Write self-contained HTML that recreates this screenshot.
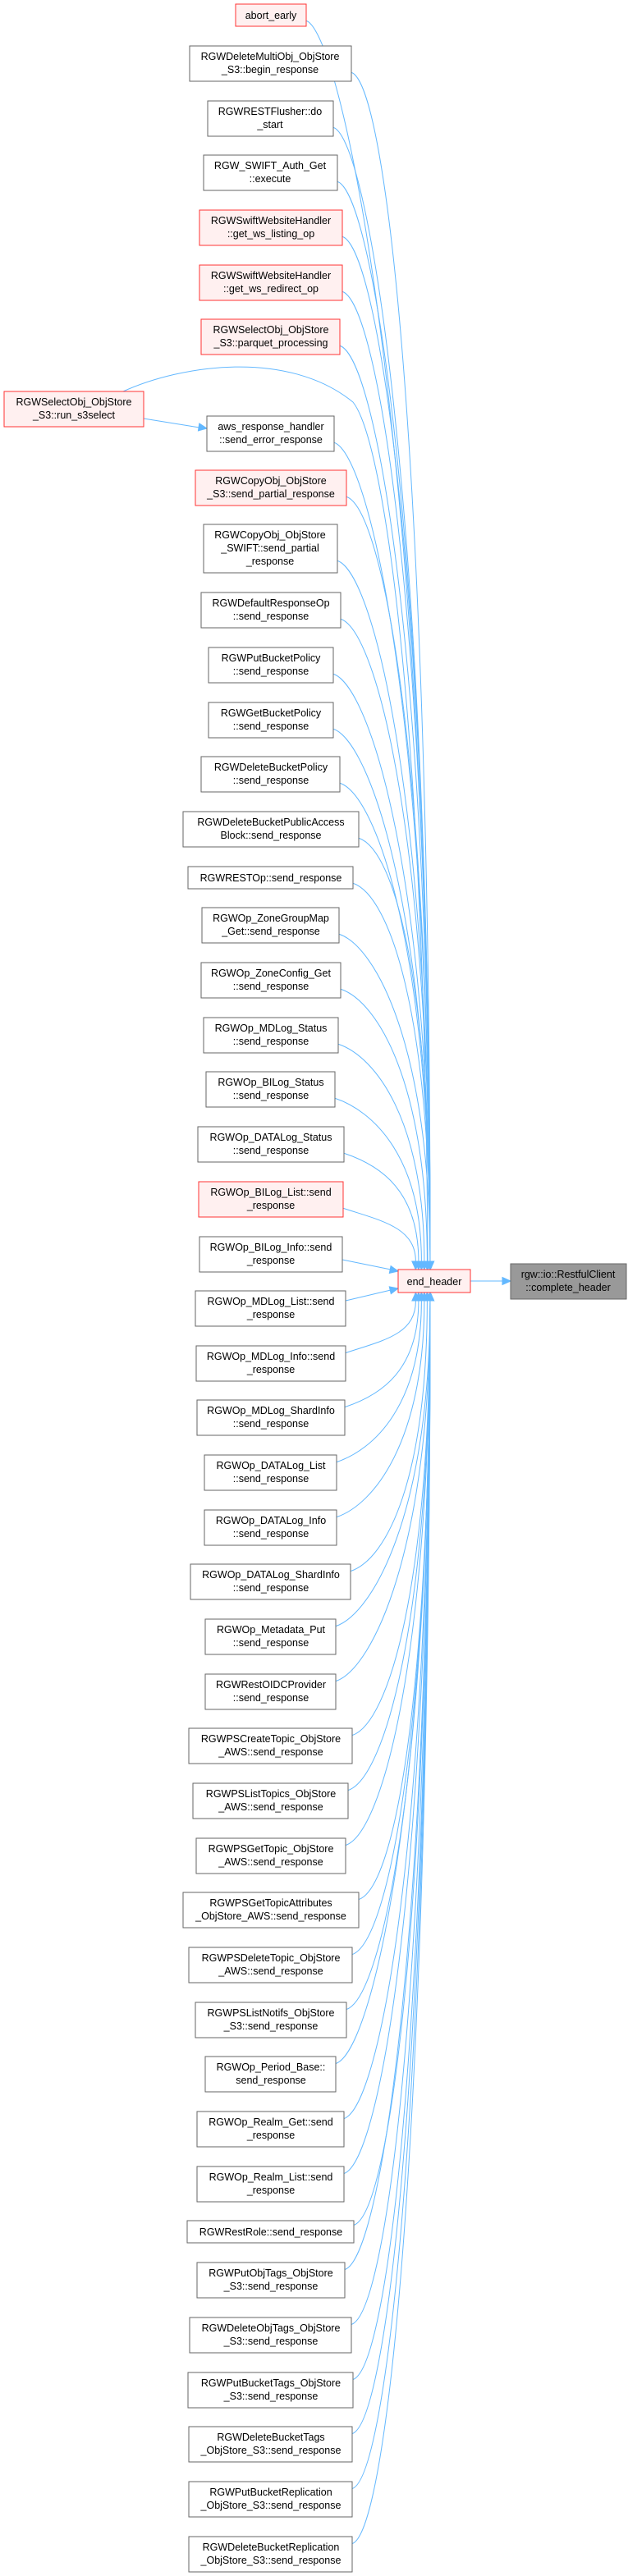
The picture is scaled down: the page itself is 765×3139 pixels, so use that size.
<!DOCTYPE html>
<html><head><meta charset="utf-8"><style>
html,body{margin:0;padding:0;background:#fff;}
svg{display:block;}
text{font-family:"Liberation Sans",Arial,sans-serif;font-size:12.5px;fill:#000;text-anchor:middle;}
.n{fill:#fff;stroke:#666;stroke-width:1;}
.r{fill:#fff0f0;stroke:#f33;stroke-width:1;}
.g{fill:#999;stroke:#666;stroke-width:1;}
.e{fill:none;stroke:#63b8ff;stroke-width:1;}
.a{fill:#63b8ff;stroke:#63b8ff;}
</style></head><body>
<svg id="s" width="765" height="3139" viewBox="0 0 765 3139" xmlns="http://www.w3.org/2000/svg">
<g id="edges"></g>
<g id="nodes">
<rect class="r" x="287" y="5" width="86" height="27"/><text x="330" y="23">abort_early</text>
<rect class="n" x="231" y="56" width="197" height="43"/><text x="329" y="73">RGWDeleteMultiObj_ObjStore</text><text x="329" y="89">_S3::begin_response</text>
<rect class="n" x="253" y="123" width="153" height="43"/><text x="329" y="140">RGWRESTFlusher::do</text><text x="329" y="156">_start</text>
<rect class="n" x="248" y="189" width="163" height="43"/><text x="329" y="206">RGW_SWIFT_Auth_Get</text><text x="329" y="222">::execute</text>
<rect class="r" x="243" y="256" width="174" height="43"/><text x="330" y="273">RGWSwiftWebsiteHandler</text><text x="330" y="289">::get_ws_listing_op</text>
<rect class="r" x="243" y="323" width="174" height="43"/><text x="330" y="340">RGWSwiftWebsiteHandler</text><text x="330" y="356">::get_ws_redirect_op</text>
<rect class="r" x="245" y="389" width="169" height="43"/><text x="330" y="406">RGWSelectObj_ObjStore</text><text x="330" y="422">_S3::parquet_processing</text>
<rect class="r" x="5" y="477" width="170" height="43"/><text x="90" y="494">RGWSelectObj_ObjStore</text><text x="90" y="510">_S3::run_s3select</text>
<rect class="n" x="252" y="507" width="155" height="43"/><text x="330" y="524">aws_response_handler</text><text x="330" y="540">::send_error_response</text>
<rect class="r" x="238" y="573" width="184" height="43"/><text x="330" y="590">RGWCopyObj_ObjStore</text><text x="330" y="606">_S3::send_partial_response</text>
<rect class="n" x="248" y="639" width="163" height="59"/><text x="329" y="656">RGWCopyObj_ObjStore</text><text x="329" y="672">_SWIFT::send_partial</text><text x="329" y="688">_response</text>
<rect class="n" x="245" y="722" width="170" height="43"/><text x="330" y="739">RGWDefaultResponseOp</text><text x="330" y="755">::send_response</text>
<rect class="n" x="254" y="789" width="152" height="43"/><text x="330" y="806">RGWPutBucketPolicy</text><text x="330" y="822">::send_response</text>
<rect class="n" x="254" y="856" width="152" height="43"/><text x="330" y="873">RGWGetBucketPolicy</text><text x="330" y="889">::send_response</text>
<rect class="n" x="245" y="922" width="169" height="43"/><text x="330" y="939">RGWDeleteBucketPolicy</text><text x="330" y="955">::send_response</text>
<rect class="n" x="223" y="989" width="214" height="43"/><text x="330" y="1006">RGWDeleteBucketPublicAccess</text><text x="330" y="1022">Block::send_response</text>
<rect class="n" x="229" y="1056" width="201" height="27"/><text x="330" y="1074">RGWRESTOp::send_response</text>
<rect class="n" x="246" y="1106" width="167" height="43"/><text x="330" y="1123">RGWOp_ZoneGroupMap</text><text x="330" y="1139">_Get::send_response</text>
<rect class="n" x="245" y="1173" width="170" height="43"/><text x="330" y="1190">RGWOp_ZoneConfig_Get</text><text x="330" y="1206">::send_response</text>
<rect class="n" x="248" y="1240" width="164" height="43"/><text x="330" y="1257">RGWOp_MDLog_Status</text><text x="330" y="1273">::send_response</text>
<rect class="n" x="251" y="1306" width="157" height="43"/><text x="330" y="1323">RGWOp_BILog_Status</text><text x="330" y="1339">::send_response</text>
<rect class="n" x="241" y="1373" width="178" height="43"/><text x="330" y="1390">RGWOp_DATALog_Status</text><text x="330" y="1406">::send_response</text>
<rect class="r" x="242" y="1440" width="176" height="43"/><text x="330" y="1457">RGWOp_BILog_List::send</text><text x="330" y="1473">_response</text>
<rect class="n" x="243" y="1507" width="174" height="43"/><text x="330" y="1524">RGWOp_BILog_Info::send</text><text x="330" y="1540">_response</text>
<rect class="n" x="238" y="1573" width="183" height="43"/><text x="330" y="1590">RGWOp_MDLog_List::send</text><text x="330" y="1606">_response</text>
<rect class="n" x="239" y="1640" width="182" height="43"/><text x="330" y="1657">RGWOp_MDLog_Info::send</text><text x="330" y="1673">_response</text>
<rect class="n" x="240" y="1706" width="180" height="43"/><text x="330" y="1723">RGWOp_MDLog_ShardInfo</text><text x="330" y="1739">::send_response</text>
<rect class="n" x="249" y="1773" width="161" height="43"/><text x="330" y="1790">RGWOp_DATALog_List</text><text x="330" y="1806">::send_response</text>
<rect class="n" x="249" y="1840" width="161" height="43"/><text x="330" y="1857">RGWOp_DATALog_Info</text><text x="330" y="1873">::send_response</text>
<rect class="n" x="232" y="1906" width="195" height="43"/><text x="330" y="1923">RGWOp_DATALog_ShardInfo</text><text x="330" y="1939">::send_response</text>
<rect class="n" x="250" y="1973" width="159" height="43"/><text x="330" y="1990">RGWOp_Metadata_Put</text><text x="330" y="2006">::send_response</text>
<rect class="n" x="250" y="2040" width="159" height="43"/><text x="330" y="2057">RGWRestOIDCProvider</text><text x="330" y="2073">::send_response</text>
<rect class="n" x="230" y="2106" width="199" height="43"/><text x="330" y="2123">RGWPSCreateTopic_ObjStore</text><text x="330" y="2139">_AWS::send_response</text>
<rect class="n" x="235" y="2173" width="189" height="43"/><text x="330" y="2190">RGWPSListTopics_ObjStore</text><text x="330" y="2206">_AWS::send_response</text>
<rect class="n" x="239" y="2240" width="182" height="43"/><text x="330" y="2257">RGWPSGetTopic_ObjStore</text><text x="330" y="2273">_AWS::send_response</text>
<rect class="n" x="223" y="2306" width="214" height="43"/><text x="330" y="2323">RGWPSGetTopicAttributes</text><text x="330" y="2339">_ObjStore_AWS::send_response</text>
<rect class="n" x="230" y="2373" width="199" height="43"/><text x="330" y="2390">RGWPSDeleteTopic_ObjStore</text><text x="330" y="2406">_AWS::send_response</text>
<rect class="n" x="238" y="2440" width="184" height="43"/><text x="330" y="2457">RGWPSListNotifs_ObjStore</text><text x="330" y="2473">_S3::send_response</text>
<rect class="n" x="250" y="2506" width="159" height="43"/><text x="330" y="2523">RGWOp_Period_Base::</text><text x="330" y="2539">send_response</text>
<rect class="n" x="240" y="2573" width="179" height="43"/><text x="330" y="2590">RGWOp_Realm_Get::send</text><text x="330" y="2606">_response</text>
<rect class="n" x="240" y="2640" width="179" height="43"/><text x="330" y="2657">RGWOp_Realm_List::send</text><text x="330" y="2673">_response</text>
<rect class="n" x="228" y="2706" width="203" height="27"/><text x="330" y="2724">RGWRestRole::send_response</text>
<rect class="n" x="240" y="2757" width="180" height="43"/><text x="330" y="2774">RGWPutObjTags_ObjStore</text><text x="330" y="2790">_S3::send_response</text>
<rect class="n" x="231" y="2824" width="197" height="43"/><text x="330" y="2841">RGWDeleteObjTags_ObjStore</text><text x="330" y="2857">_S3::send_response</text>
<rect class="n" x="229" y="2891" width="201" height="43"/><text x="330" y="2908">RGWPutBucketTags_ObjStore</text><text x="330" y="2924">_S3::send_response</text>
<rect class="n" x="230" y="2957" width="199" height="43"/><text x="330" y="2974">RGWDeleteBucketTags</text><text x="330" y="2990">_ObjStore_S3::send_response</text>
<rect class="n" x="230" y="3024" width="199" height="43"/><text x="330" y="3041">RGWPutBucketReplication</text><text x="330" y="3057">_ObjStore_S3::send_response</text>
<rect class="n" x="230" y="3091" width="199" height="43"/><text x="330" y="3108">RGWDeleteBucketReplication</text><text x="330" y="3124">_ObjStore_S3::send_response</text>
<rect class="r" x="485" y="1547" width="88" height="28"/><text x="529" y="1566">end_header</text>
<rect class="g" x="622" y="1540" width="141" height="43"/><text x="692" y="1557">rgw::io::RestfulClient</text><text x="692" y="1573">::complete_header</text>
</g>
</svg>
<script>
(function(){
var NS="http://www.w3.org/2000/svg",g=document.getElementById("edges"),out="";
function path(d){out+='<path class="e" d="'+d+'"/>';}
function arrow(tx,ty,dx,dy){var L=Math.sqrt(dx*dx+dy*dy);dx/=L;dy/=L;var bx=tx-dx*10,by=ty-dy*10,px=-dy*4.5,py=dx*4.5;
out+='<polygon class="a" points="'+tx+','+ty+' '+(bx+px)+','+(by+py)+' '+(bx-px)+','+(by-py)+'"/>';}
var up=[[373,5,27],[428,56,43],[406,123,43],[411,189,43],[417,256,43],[417,323,43],[414,389,43],[407,507,43],[422,573,43],[411,639,59],[415,722,43],[406,789,43],[406,856,43],[414,922,43],[437,989,43],[430,1056,27],[413,1106,43],[415,1173,43],[412,1240,43],[408,1306,43],[419,1373,43],[418,1440,43]];
up.forEach(function(n){var sx=n[0],sy=n[1]+n[2]*0.75,d=1547-(n[1]+n[2]);var xe=503+21*Math.min(1,d/400);
var ey=1537;path("M"+sx+","+sy+" C"+(sx+45)+","+(sy+15)+" "+xe+","+(sy+(ey-sy)*0.35)+" "+xe+","+ey);arrow(xe,1547,0,1);});
var lo=[[421,1640,43],[420,1706,43],[410,1773,43],[410,1840,43],[427,1906,43],[409,1973,43],[409,2040,43],[429,2106,43],[424,2173,43],[421,2240,43],[437,2306,43],[429,2373,43],[422,2440,43],[409,2506,43],[419,2573,43],[419,2640,43],[431,2706,27],[420,2757,43],[428,2824,43],[430,2891,43],[429,2957,43],[429,3024,43],[429,3091,43]];
lo.forEach(function(n){var sx=n[0],sy=n[1]+n[2]*0.2,d=n[1]-1575;var xe=503+21*Math.min(1,d/400);
var ey=1585;path("M"+sx+","+sy+" C"+(sx+45)+","+(sy-15)+" "+xe+","+(sy-(sy-ey)*0.35)+" "+xe+","+ey);arrow(xe,1575,0,-1);});
path("M417,1535 L476,1547");arrow(485,1549,69,14);
path("M421,1585 L476,1572");arrow(485,1570,64,-15);
path("M150,477 C220,445 350,425 430,490 C470,540 518,900 521,1537");arrow(521,1547,0,1);
path("M175,510 L243,521");arrow(252,522,77,12);
path("M573,1561 L612,1561");arrow(622,1561,1,0);
g.innerHTML=out;
})();
</script>
</body></html>
